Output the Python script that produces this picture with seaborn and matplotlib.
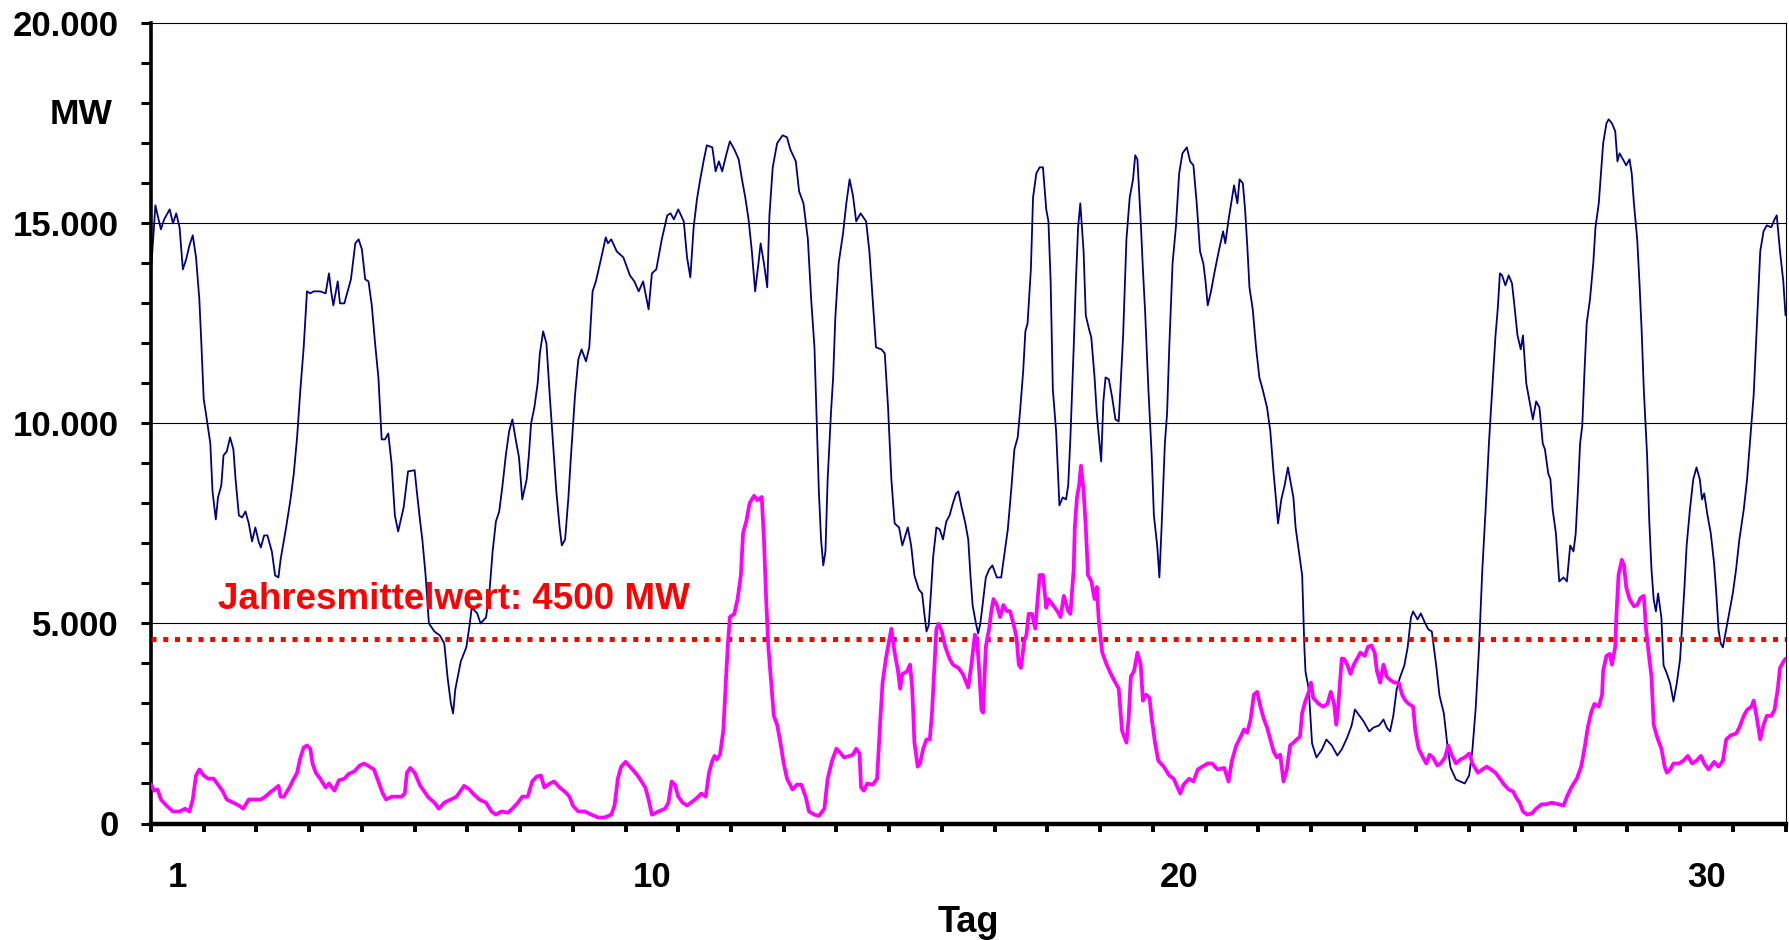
import matplotlib
matplotlib.use("Agg")
import matplotlib.pyplot as plt
import matplotlib.ticker as ticker
import pandas as pd
import seaborn as sns

# x in hours since start of month, y in MW
day_labels = [1, 10, 20, 30]
n_days = 31
mean_mw = 4600
mean_text = "Jahresmittelwert: 4500 MW"
y_ticks_major = [0, 5000, 10000, 15000, 20000]

blue_points = [
    (0, 13800), (2, 15450), (4.5, 14850), (6, 15100), (8.5, 15350), (10, 15000),
    (11.5, 15250), (13, 14900), (14.5, 13850), (16, 14100), (17.5, 14450), (19, 14700),
    (20.5, 14150), (22, 13100), (23, 11900), (24, 10600), (25, 10250), (27, 9500),
    (28, 8300), (29.5, 7600), (30.5, 8150), (32, 8450), (33, 9200), (34.5, 9300),
    (36, 9650), (37.5, 9350), (38.5, 8600), (40, 7700), (41.5, 7650), (43, 7800),
    (44.5, 7500), (46, 7050), (47.5, 7400), (49, 7050), (50, 6900), (51.5, 7200),
    (53, 7200), (55, 6800), (56.5, 6200), (58, 6150), (59, 6600), (61.5, 7400),
    (63.5, 8100), (65, 8750), (66.5, 9650), (68, 10850), (69.5, 11900), (71, 13300),
    (72.5, 13250), (74, 13300), (77, 13300), (79.5, 13250), (81, 13750), (82, 13300),
    (83, 12950), (85, 13550), (86, 13000), (88, 13000), (91, 13600), (93, 14500),
    (94.5, 14600), (96, 14350), (97.5, 13600), (99, 13550), (100.5, 12950), (102, 12000),
    (103.5, 11150), (105, 9600), (106.5, 9600), (108, 9750), (109.5, 9000), (111, 7700),
    (112.5, 7300), (115, 7900), (117, 8800), (120, 8830), (121, 8300), (122.5, 7550),
    (123.5, 7100), (125, 6200), (126.5, 5000), (129, 4800), (131.5, 4700), (133.5, 4500),
    (135, 3650), (136.5, 3000), (137.5, 2750), (138.5, 3350), (141, 4050), (143.5, 4400),
    (145, 4950), (146, 5400), (148.5, 5250), (150, 5000), (152.5, 5150), (154, 5750),
    (155.5, 6800), (157, 7550), (158.5, 7800), (160, 8450), (161.5, 9200), (163, 9800),
    (164.5, 10100), (166, 9600), (167.5, 9150), (169, 8100), (171, 8600), (172, 9200),
    (173, 10000), (174.5, 10400), (176, 11000), (177, 11750), (178.5, 12300), (180, 12000),
    (181.5, 10700), (183, 9500), (184.5, 8300), (186, 7400), (187, 6950), (188.5, 7100),
    (190, 8150), (191, 9050), (193, 10700), (194.5, 11600), (196, 11850), (198, 11550),
    (199.5, 11900), (201, 13300), (202.5, 13550), (205, 14150), (207, 14650), (208, 14500),
    (209.5, 14600), (212, 14300), (215, 14150), (218, 13700), (220, 13550), (222, 13300),
    (224, 13550), (226.5, 12850), (228, 13750), (230, 13850), (232.5, 14600), (235, 15200),
    (236.5, 15250), (238, 15100), (240, 15350), (242.5, 15050), (244, 14150), (245.5, 13650),
    (247, 14900), (248.5, 15600), (250, 16100), (251.5, 16550), (253, 16950), (255.5, 16900),
    (257, 16300), (258.5, 16550), (260, 16300), (262, 16750), (263.5, 17050), (265.5, 16850),
    (267.5, 16600), (269, 16100), (270.5, 15650), (272, 15100), (273.5, 14300), (275, 13300),
    (276.5, 14000), (277.5, 14500), (279, 14000), (280.5, 13400), (281.5, 15200), (283, 16400),
    (285, 17000), (287.5, 17200), (289.5, 17150), (291, 16850), (293.5, 16550), (295, 15800),
    (297, 15500), (299, 14600), (300.5, 13100), (302, 11900), (303, 10100), (304, 8300),
    (305, 7100), (306, 6450), (307, 6800), (308, 8600), (309.5, 10250), (310.5, 11150),
    (311.5, 12650), (313, 14000), (315, 14750), (316.5, 15500), (318, 16100), (319.5, 15700),
    (321, 15050), (323, 15250), (325.5, 15050), (327, 14300), (328.5, 13100), (330, 11900),
    (332.5, 11850), (334, 11750), (335.5, 10400), (337, 8600), (338.5, 7500), (340.5, 7400),
    (342, 6950), (344.5, 7400), (346, 6950), (347.5, 6200), (349.5, 5850), (351, 5750),
    (352, 5250), (353, 4800), (354, 4950), (355, 5750), (356, 6650), (357.5, 7400),
    (359, 7350), (360.5, 7100), (362, 7550), (363.5, 7700), (365, 8000), (366.5, 8250),
    (367.5, 8300), (369, 7900), (370.5, 7550), (372, 7100), (373, 6200), (374, 5450),
    (375.5, 5000), (376.5, 4750), (377.5, 5000), (378.5, 5450), (380, 6150), (381.5, 6350),
    (383, 6450), (385, 6150), (387, 6150), (388.5, 6750), (390, 7350), (391.5, 8300),
    (393, 9350), (394.5, 9650), (395.5, 10250), (397, 11300), (398, 12300), (399, 12500),
    (400.5, 13850), (401.5, 15650), (403, 16250), (404.5, 16400), (406, 16400), (407.5, 15350),
    (408.5, 15050), (409.5, 13550), (410.5, 10850), (412, 9800), (413.5, 7950), (415, 8150),
    (416.5, 8100), (417.5, 8450), (418.5, 9650), (420, 11900), (421, 13550), (422, 14900),
    (423, 15500), (424.5, 14300), (425.5, 12700), (427, 12350), (428, 12150), (429.5, 11150),
    (430.5, 10250), (431.5, 9650), (432.5, 9050), (433.5, 10550), (434.5, 11150), (436, 11100),
    (437.5, 10650), (439, 10100), (440.5, 10050), (441.5, 11150), (442.5, 12200), (444, 14600),
    (445.5, 15650), (447, 16100), (448, 16700), (449, 16600), (450.5, 15050), (451.5, 13850),
    (452.5, 12800), (454, 10850), (455.5, 9200), (456.5, 7700), (458, 6950), (459, 6150),
    (460, 7400), (461.5, 9500), (462.5, 10250), (463.5, 11900), (465, 14000), (466.5, 14900),
    (468, 16250), (469.5, 16750), (471.5, 16900), (473, 16550), (474.5, 16450), (476, 15500),
    (477.5, 14300), (479, 14000), (480, 13550), (481, 12950), (482.5, 13300), (484, 13750),
    (486, 14300), (488, 14800), (489, 14500), (490.5, 15100), (493, 15950), (494.5, 15500),
    (495.5, 16100), (497, 16000), (498, 15350), (499, 14450), (500, 13400), (501.5, 12850),
    (503, 11900), (504.5, 11150), (506, 10850), (508, 10400), (509.5, 9800), (511, 8750),
    (512, 8150), (513, 7500), (514.5, 8100), (516, 8450), (517.5, 8900), (518.5, 8600),
    (520, 8150), (521, 7400), (522.5, 6800), (524, 6200), (525, 4400), (525.5, 3800),
    (527, 3350), (528.5, 2000), (530.5, 1650), (533, 1850), (535, 2100), (537.5, 1950),
    (540, 1700), (542, 1850), (544.5, 2150), (546.5, 2450), (548, 2850), (550, 2700),
    (552, 2550), (554.5, 2300), (556.5, 2400), (559, 2450), (561, 2600), (562.5, 2400),
    (564, 2300), (565.5, 2700), (567, 3350), (568.5, 3650), (570.5, 3950), (572, 4400),
    (573.5, 5150), (574.5, 5300), (576.5, 5100), (578, 5250), (580, 5000), (581.5, 4850),
    (583, 4800), (585, 3950), (586.5, 3200), (588.5, 2750), (590, 2000), (591.5, 1400),
    (594, 1100), (596, 1050), (598, 1000), (600, 1200), (601.5, 1850), (603, 2900),
    (604.5, 4400), (606, 6350), (607.5, 7850), (609, 9500), (610.5, 10850), (612, 12200),
    (613, 12850), (614, 13750), (615, 13700), (616.5, 13450), (618, 13700), (619.5, 13500),
    (620.5, 13000), (622, 12200), (623.5, 11850), (624.5, 12200), (626, 11000), (627.5, 10550),
    (629, 10100), (630.5, 10550), (632, 10400), (633.5, 9500), (634.5, 9350), (636, 8750),
    (637, 8600), (638, 7850), (639.5, 7250), (641, 6050), (643, 6150), (644.5, 6050),
    (646, 6950), (647.5, 6800), (648.5, 7250), (649.5, 8300), (650.5, 9500), (651.5, 9950),
    (652.5, 11300), (653.5, 12500), (655, 13100), (656.5, 14000), (657.5, 14900), (659, 15500),
    (660, 16250), (661, 17000), (662.5, 17500), (663.5, 17600), (665, 17500), (666.5, 17300),
    (667.5, 16550), (668.5, 16750), (670, 16600), (671.5, 16450), (673, 16600), (674, 16250),
    (675, 15500), (676.5, 14600), (677.5, 13550), (678.5, 12350), (679.5, 10850), (681, 9200),
    (682, 7550), (683, 6350), (684, 5600), (685, 5300), (686, 5750), (687.5, 5150),
    (688.5, 3950), (690, 3750), (691.5, 3500), (693, 3050), (694.5, 3500), (696, 4100),
    (697, 5000), (698, 5900), (699, 6950), (700.5, 7850), (702, 8600), (703.5, 8900),
    (705, 8600), (706, 8100), (707, 8250), (708.5, 7700), (710, 7250), (711.5, 6500),
    (712.5, 5750), (713.5, 4850), (714.5, 4500), (715.5, 4400), (717, 4850), (718.5, 5300),
    (720, 5750), (721.5, 6350), (723, 7100), (725, 7850), (726.5, 8600), (728, 9650),
    (729.5, 10700), (730.5, 11900), (731.5, 13100), (732.5, 14300), (734, 14800), (735.5, 14950),
    (737.5, 14900), (739, 15100), (740, 15200), (741.5, 14300), (743, 13550), (744, 12700),
]

pink_points = [
    (0, 970), (1.5, 820), (3, 850), (4.5, 600), (7, 450), (10, 300), (13, 300),
    (15.5, 370), (17.5, 300), (19, 600), (20.5, 1200), (22, 1350), (24, 1200), (26, 1120),
    (28.5, 1120), (30.5, 970), (32.5, 820), (34.5, 600), (37.5, 520), (40, 450), (42, 370),
    (44.5, 600), (47, 600), (50, 600), (52, 670), (54.5, 790), (56, 850), (58, 940),
    (59, 670), (60.5, 670), (63, 900), (65, 1120), (66.5, 1270), (68, 1650), (69.5, 1900),
    (71, 1950), (72.5, 1870), (73.5, 1500), (75, 1270), (77, 1120), (79.5, 900), (81, 1000),
    (83.5, 820), (85.5, 1080), (88, 1120), (90, 1240), (92.5, 1300), (95, 1450), (97, 1500),
    (99.5, 1420), (101.5, 1350), (104, 970), (105.5, 750), (107, 600), (109.5, 670),
    (112, 670), (114, 670), (115.5, 750), (116.5, 1270), (118, 1390), (120, 1270),
    (122.5, 950), (126, 670), (129, 520), (131, 370), (133.5, 520), (136.5, 600), (139, 670),
    (141, 820), (142.5, 940), (145, 850), (146.5, 750), (149.5, 600), (152.5, 520), (155, 300),
    (157, 220), (159.5, 300), (162.5, 270), (164.5, 370), (167, 520), (169, 670), (171.5, 670),
    (173.5, 1050), (175.5, 1170), (177.5, 1200), (179, 900), (181.5, 1000), (183.5, 1050),
    (186, 900), (188.5, 790), (190.5, 670), (192, 450), (194.5, 300), (197.5, 300),
    (200.5, 220), (203.5, 150), (206.5, 150), (209.5, 220), (211, 450), (212.5, 1120),
    (214, 1420), (216, 1540), (218, 1420), (220.5, 1270), (222.5, 1120), (225, 900),
    (226.5, 600), (228, 220), (231, 300), (234, 370), (235.5, 520), (237, 1050), (238.5, 970),
    (240, 670), (242, 520), (244, 450), (246.5, 550), (248.5, 640), (250.5, 750), (252.5, 670),
    (254, 1270), (255.5, 1570), (256.5, 1690), (257.5, 1600), (259, 1720), (260.5, 2320),
    (261.5, 3370), (262.5, 4420), (263.5, 5160), (265.5, 5240), (267, 5610), (268.5, 6210),
    (269.5, 7260), (271, 7560), (272.5, 8010), (274.5, 8190), (276, 8080), (278, 8160),
    (279, 7110), (280, 5610), (281, 4420), (282.5, 3370), (283.5, 2690), (285, 2470),
    (286.5, 2020), (288, 1500), (289.5, 1120), (292, 850), (294, 970), (296, 970), (298, 670),
    (299.5, 300), (302, 220), (304, 190), (306.5, 370), (308, 1120), (310, 1570), (312, 1870),
    (314, 1750), (315.5, 1650), (318, 1690), (319.5, 1720), (321, 1870), (322.5, 1750),
    (323.2, 900), (324.5, 820), (326, 1000), (328.5, 970), (330.5, 1120), (332, 2620),
    (333, 3520), (334.5, 4120), (336, 4570), (337, 4870), (338.5, 4270), (340, 3820),
    (341, 3370), (342, 3740), (344, 3790), (345.5, 3970), (346.5, 3370), (347.5, 2020),
    (349, 1420), (350, 1500), (351.5, 1870), (353, 2100), (354.5, 2100), (355.5, 2770),
    (356.5, 3820), (357.5, 4870), (358.5, 4990), (360, 4790), (361.5, 4420), (363.5, 4120),
    (365, 3970), (367.5, 3890), (369.5, 3740), (372, 3400), (373.5, 4000), (375, 4720),
    (376, 4600), (377, 3800), (378, 2840), (378.7, 2770), (380, 4420), (381.5, 4870),
    (382.5, 5310), (383.5, 5610), (385, 5460), (386.5, 5160), (388, 5460), (389.5, 5310),
    (391, 5310), (392.5, 5010), (394, 4640), (395, 3970), (396, 3890), (397.5, 4570),
    (398.5, 4720), (399.5, 5240), (401, 5240), (402.5, 4870), (403.5, 5540), (404.5, 6210),
    (406, 6210), (407.5, 5390), (408.5, 5610), (410.5, 5460), (412.5, 5310), (414, 5160),
    (415.5, 5690), (417.5, 5310), (418.5, 5240), (420, 6360), (420.5, 7410), (421.5, 8160),
    (422.5, 8460), (423.3, 8940), (424.5, 8310), (425.5, 7410), (426.5, 6210), (428, 6060),
    (429.5, 5610), (430.5, 5910), (431.5, 5010), (433, 4270), (435, 3970), (437.5, 3670),
    (439, 3520), (440.5, 3370), (442, 2320), (444, 2020), (445, 2620), (446, 3670),
    (447.5, 3820), (449, 4270), (450.5, 3970), (451.5, 3070), (453, 3220), (454.5, 3140),
    (455.5, 2620), (457, 2020), (458.5, 1570), (461, 1420), (463.5, 1200), (465.5, 1120),
    (468.5, 750), (470, 970), (472.5, 1120), (474.5, 1050), (476.5, 1350), (478.5, 1420),
    (481, 1500), (483, 1500), (485.5, 1350), (488.5, 1390), (490.5, 1050), (492, 1570),
    (494, 1950), (496, 2170), (497.5, 2350), (499, 2270), (500.5, 2600), (502, 3220),
    (503.5, 3290), (505, 2920), (506.5, 2620), (508, 2400), (509.5, 2100), (511, 1800),
    (512.5, 1650), (514, 1720), (515.5, 1050), (517, 1350), (518.5, 1950), (520, 2020),
    (521.5, 2100), (523, 2170), (524, 2770), (525.5, 3070), (527, 3290), (528, 3520),
    (529, 3140), (531.5, 2990), (533.5, 2920), (535.5, 2990), (537, 3290), (538.5, 2990),
    (539.5, 2470), (540.5, 2990), (542, 4120), (543, 4120), (544.5, 3970), (546, 3740),
    (547.5, 3970), (549, 4120), (550.5, 4270), (552.5, 4190), (554, 4420), (555.5, 4450),
    (557, 4270), (558, 3820), (559.5, 3520), (561, 3970), (562.5, 3670), (564, 3590),
    (566, 3520), (568, 3520), (569.5, 3220), (571, 3070), (572.5, 2990), (574.5, 2920),
    (575.5, 2320), (577, 1870), (579, 1650), (580.5, 1500), (582, 1720), (583.5, 1650),
    (585.5, 1450), (587, 1500), (589, 1650), (590.5, 1950), (592, 1720), (594, 1500),
    (596, 1600), (598, 1650), (600, 1750), (601.5, 1500), (604, 1270), (606, 1350),
    (608, 1420), (610, 1350), (612, 1270), (614, 1120), (616, 970), (618, 850), (620, 800),
    (621.5, 640), (623, 520), (624.5, 300), (626.5, 220), (628.5, 250), (630.5, 370),
    (633, 480), (635, 480), (637.5, 520), (640, 490), (643, 450), (644.5, 670), (646.5, 900),
    (649, 1120), (651, 1420), (652.5, 1870), (654, 2400), (655.5, 2770), (657, 2990),
    (659, 2920), (660.5, 3220), (661, 3820), (662.5, 4190), (664, 4240), (665, 3970),
    (666.5, 4420), (667, 5160), (668, 6210), (669.5, 6590), (670.5, 6440), (671.5, 5910),
    (673, 5610), (675, 5430), (676.5, 5460), (678, 5640), (679.5, 5690), (680.5, 4870),
    (682, 4120), (683, 3670), (684, 2470), (685.5, 2170), (687.5, 1870), (689, 1420),
    (690, 1270), (691.5, 1350), (693, 1500), (695.5, 1500), (697.5, 1570), (699.5, 1690),
    (701.5, 1500), (703.5, 1570), (705.5, 1690), (707, 1500), (709, 1350), (711.5, 1540),
    (713.5, 1420), (715.5, 1570), (717, 2100), (719, 2200), (721.5, 2250), (723, 2400),
    (725, 2690), (726.5, 2840), (728.5, 2920), (729.5, 3070), (731, 2620), (732.5, 2100),
    (734, 2470), (735.5, 2690), (737.5, 2690), (739, 2840), (740.5, 3370), (741.5, 3890),
    (743, 4040), (744, 4120),
]


def german_thousands(value, pos):
    return f"{value:,.0f}".replace(",", ".")


sns.set_theme(style="ticks")
plt.rcParams["font.family"] = ["Liberation Sans", "DejaVu Sans"]
plt.rcParams["font.weight"] = "bold"
plt.rcParams["text.color"] = "black"

blue = pd.DataFrame(blue_points, columns=["hour", "mw"])
pink = pd.DataFrame(pink_points, columns=["hour", "mw"])

fig = plt.figure(figsize=(17.89, 9.40), dpi=100)
ax = fig.add_axes([151 / 1789, 1 - 823.5 / 940, 1634.5 / 1789, 800.2 / 940])

for level in y_ticks_major[1:-1]:
    ax.axhline(level, color="black", lw=0.8, zorder=1)

sns.lineplot(data=blue, x="hour", y="mw", ax=ax, color="#000080", lw=1.3,
             sort=False, estimator=None, zorder=2)
ax.axhline(mean_mw, color="#FF0000", lw=3.6, linestyle=(0, (1.0, 1.35)), zorder=3)
sns.lineplot(data=pink, x="hour", y="mw", ax=ax, color="#FF00FF", lw=2.7,
             sort=False, estimator=None, zorder=4)

ax.set_xlim(0, n_days * 24)
ax.set_ylim(0, 20000)
ax.set_xlabel("")
ax.set_ylabel("")

ax.xaxis.set_major_locator(ticker.MultipleLocator(24))
ax.xaxis.set_major_formatter(ticker.NullFormatter())
ax.xaxis.set_minor_locator(ticker.FixedLocator([(d - 0.5) * 24 for d in day_labels]))
ax.xaxis.set_minor_formatter(ticker.FixedFormatter([str(d) for d in day_labels]))
ax.tick_params(axis="x", which="major", direction="out", length=6, width=2.8, color="black")
ax.tick_params(axis="x", which="minor", length=0, pad=27, labelsize=25, labelcolor="black")

ax.yaxis.set_major_locator(ticker.FixedLocator(y_ticks_major))
ax.yaxis.set_major_formatter(ticker.FuncFormatter(german_thousands))
ax.yaxis.set_minor_locator(ticker.MultipleLocator(1000))
ax.tick_params(axis="y", which="both", direction="out", length=7, width=2.2,
               color="black", labelsize=25, pad=16, labelcolor="black")

for side, width in {"left": 2.6, "bottom": 3.2, "top": 0.8, "right": 0.8}.items():
    ax.spines[side].set_visible(True)
    ax.spines[side].set_linewidth(width)
    ax.spines[side].set_color("black")

ax.text(30.6, 5350, mean_text, color="#FF0000", fontsize=26.5, fontweight="bold",
        ha="left", va="baseline", zorder=5)
fig.text(81 / 1789, 1 - 114 / 940, "MW", fontsize=25.5, fontweight="bold",
         color="black", ha="center", va="center")
fig.text(968 / 1789, 1 - 932 / 940, "Tag", fontsize=26, fontweight="bold",
         color="black", ha="center", va="baseline")

fig.savefig("out.png", dpi=100)
plt.close("all")
